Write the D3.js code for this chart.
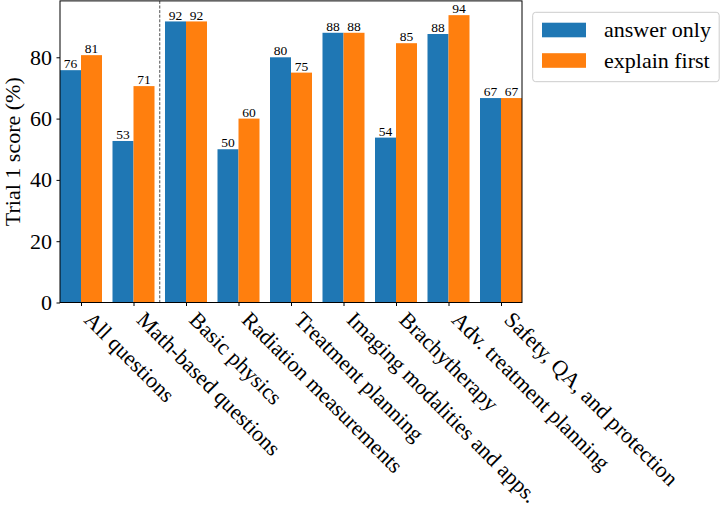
<!DOCTYPE html>
<html><head><meta charset="utf-8">
<script src="https://cdn.jsdelivr.net/npm/d3@7"></script>
<style>body{margin:0;background:#fff}svg{display:block}text{font-family:"Liberation Serif","DejaVu Serif",serif;fill:#000}</style>
</head><body><svg id="c" width="721" height="507"></svg>
<script>
const categories = ["All questions","Math-based questions","Basic physics","Radiation measurements","Treatment planning","Imaging modalities and apps.","Brachytherapy","Adv. treatment planning","Safety, QA, and protection"];
const answerOnly = [75.8, 52.7, 91.7, 50.0, 80.0, 88.0, 53.8, 87.6, 66.7];
const explainFirst = [80.7, 70.6, 91.7, 60.0, 75.0, 88.0, 84.6, 93.75, 66.7];
const seriesNames = ["answer only","explain first"];
const colors = ["#1f77b4","#ff7f0e"];
const yTicks = [0,20,40,60,80];

const svg = d3.select("#c");
const L=60, R=522, T=0.9, B=302.5;
const FS = "22px";
const x = d3.scaleLinear().domain([-0.4, categories.length-0.6]).range([L,R]);
const y = d3.scaleLinear().domain([0,98.4]).range([B,T]);
const bw = 0.4;
const series = [answerOnly, explainFirst];

// bars
series.forEach((vals,s)=>{
  const g = svg.append("g");
  g.selectAll("rect").data(vals).enter().append("rect")
    .attr("x",(d,i)=>x(i-bw+s*bw)).attr("width",(d,i)=>x(i+s*bw)-x(i-bw+s*bw))
    .attr("y",d=>y(d)).attr("height",d=>y(0)-y(d)).attr("fill",colors[s]);
  g.selectAll("text").data(vals).enter().append("text")
    .attr("x",(d,i)=>x(i-bw/2+s*bw)).attr("y",d=>y(d)-1.8)
    .attr("text-anchor","middle").attr("font-size","13.5px").text(d=>Math.round(d));
});

// dashed separator
svg.append("line").attr("x1",x(1.5)).attr("x2",x(1.5)).attr("y1",T).attr("y2",B)
  .attr("stroke","#222").attr("stroke-width",0.8).attr("stroke-dasharray","3,1.6");

// spines
svg.append("rect").attr("x",L).attr("y",T).attr("width",R-L).attr("height",B-T)
  .attr("fill","none").attr("stroke","#000").attr("stroke-width",1);

// y axis
const ya = svg.append("g").attr("transform",`translate(${L},0)`)
  .call(d3.axisLeft(y).tickValues(yTicks).tickSize(3.5).tickPadding(4.5).tickFormat(d3.format("d")));
ya.select(".domain").remove();
ya.selectAll("text").attr("font-size",FS).attr("font-family","Liberation Serif").attr("fill","#000");
ya.selectAll("line").attr("stroke","#000");

// x axis
const xa = svg.append("g").attr("transform",`translate(0,${B})`)
  .call(d3.axisBottom(x).tickValues(d3.range(categories.length)).tickSize(3.5).tickFormat(""));
xa.select(".domain").remove();
xa.selectAll("line").attr("stroke","#000");
svg.append("g").selectAll("text").data(categories).enter().append("text")
  .attr("transform",(d,i)=>`translate(${x(i)+2},321) rotate(45)`)
  .attr("font-size",FS).attr("text-anchor","start").text(d=>d);

// y label
svg.append("text").attr("transform",`translate(19.5,${(T+B)/2}) rotate(-90)`)
  .attr("text-anchor","middle").attr("font-size",FS).text("Trial 1 score (%)");

// legend
const lg = svg.append("g");
lg.append("rect").attr("x",532.7).attr("y",12.3).attr("width",186.5).attr("height",69.4)
  .attr("rx",3).attr("fill","#fff").attr("fill-opacity",0.8).attr("stroke","#cccccc").attr("stroke-width",1);
seriesNames.forEach((n,i)=>{
  const cy = 30 + i*30.5;
  lg.append("rect").attr("x",542).attr("y",cy-7.3).attr("width",44).attr("height",14.6).attr("fill",colors[i]);
  lg.append("text").attr("x",604).attr("y",cy+7).attr("font-size",FS).text(n);
});
</script></body></html>
